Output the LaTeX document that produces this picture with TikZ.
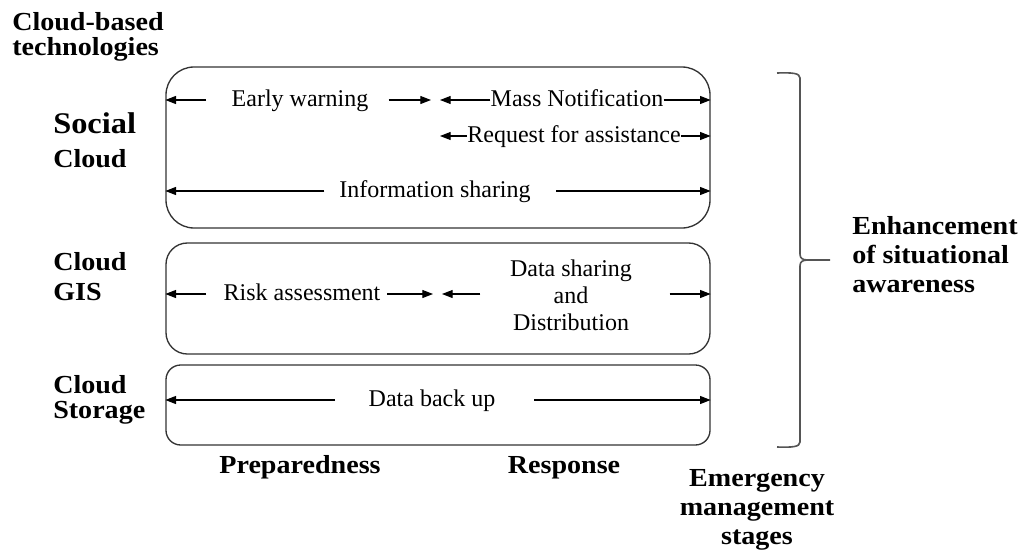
\documentclass[tikz,border=0pt]{standalone}
\usepackage{fontspec}
\setmainfont{Liberation Serif}
\newfontfamily\lblfont{Liberation Serif}[FakeStretch=1.08]
\usetikzlibrary{arrows.meta}
\definecolor{boxgray}{HTML}{333333}
\definecolor{bracegray}{HTML}{555555}
\begin{document}
\begin{tikzpicture}[x=0.75pt,y=-0.75pt,
  box/.style={draw=boxgray, line width=1pt, inner sep=0pt, minimum width=408pt},
  arr/.style={-{Triangle[length=8pt,width=6pt]}, line width=0.8pt},
  txt/.style={font=\fontsize{18}{20.25}\selectfont, inner sep=0pt, text height=14pt, text depth=4pt},
  mtxt/.style={font=\fontsize{18}{20.25}\selectfont, inner sep=0pt, align=center},
  lbl/.style={font=\lblfont\bfseries\fontsize{19.5}{21.75}\selectfont, inner sep=0pt, align=left},
  brc/.style={draw=bracegray, line width=1.2pt}
]
\useasboundingbox (0,0) rectangle (1023,550);

% boxes
\node[box, rounded corners=21pt, minimum height=120.75pt] (b1) at (438,147.5) {};
\node[box, rounded corners=16pt, minimum height=83.25pt] (b2) at (438,298.5) {};
\node[box, rounded corners=11pt, minimum height=60pt] (b3) at (438,405) {};

% social cloud rows
\node[txt] (ew) at (300,100) {Early warning};
\coordinate (ewR) at (431,100);
\node[txt] (mn) at (577,100) {Mass Notification};
\coordinate (mnL) at (440,100);
\draw[arr, shorten <=19pt] (ew.west) -- (ew.west -| b1.west);
\draw[arr, shorten <=15pt] (ew.east) -- (ewR);
\draw[arr] (mn.west) -- (mnL);
\draw[arr] (mn.east) -- (mn.east -| b1.east);

\node[txt] (ra) at (574,136) {Request for assistance};
\coordinate (raL) at (440,136);
\draw[arr] (ra.west) -- (raL);
\draw[arr] (ra.east) -- (ra.east -| b1.east);

\node[txt] (is) at (435,191) {Information sharing};
\draw[arr, shorten <=11pt] (is.west) -- (is.west -| b1.west);
\draw[arr, shorten <=19pt] (is.east) -- (is.east -| b1.east);

% cloud GIS row
\node[txt] (rk) at (302,294) {Risk assessment};
\coordinate (rkR) at (433,294);
\draw[arr, shorten <=13pt] (rk.west) -- (rk.west -| b2.west);
\draw[arr, shorten <=5pt] (rk.east) -- (rkR);
\node[mtxt] (ds) at (571,295) {Data sharing\\and\\Distribution};
\coordinate (dsL) at (442,294);
\draw[arr, shorten <=22pt] (ds.west |- dsL) -- (dsL);
\draw[arr, shorten <=28pt] (ds.east |- dsL) -- (dsL -| b2.east);

% cloud storage row
\node[txt] (db) at (432,400) {Data back up};
\draw[arr, shorten <=25pt] (db.west) -- (db.west -| b3.west);
\draw[arr, shorten <=29pt] (db.east) -- (db.east -| b3.east);

% left labels (base anchor = last line baseline)
\node[lbl, anchor=base west, font=\lblfont\bfseries\fontsize{19.5}{18.75}\selectfont] (cbt) at (12,55) {Cloud-based\\technologies};
\node[lbl, anchor=base west] (sc) at (53,167) {{\fontsize{22.5}{22.5}\selectfont Social}\\[3.75pt]Cloud};
\node[lbl, anchor=base west, font=\lblfont\bfseries\fontsize{19.5}{22.5}\selectfont] (gis) at (53,300) {Cloud\\GIS};
\node[lbl, anchor=base west, font=\lblfont\bfseries\fontsize{19.5}{18.75}\selectfont] (cs) at (53,418) {Cloud\\Storage};

% stages
\node[lbl, anchor=base] (prep) at (300,473) {Preparedness};
\node[lbl, anchor=base] (resp) at (564,473) {Response};
\node[lbl, anchor=base, align=center] (ems) at (757,544) {Emergency\\management\\stages};

% brace and awareness
\draw[brc] (777,73) .. controls (792,72.5) and (800,73) .. (800,78)
  -- (800,254) .. controls (800,258) and (802,260) .. (808,260) -- (830,260);
\draw[brc] (808,260) .. controls (802,260) and (800,262) .. (800,266)
  -- (800,442) .. controls (800,447) and (792,447.5) .. (777,447);
\node[lbl, anchor=base west] (esa) at (852,292) {Enhancement\\of situational\\awareness};
\end{tikzpicture}
\end{document}
